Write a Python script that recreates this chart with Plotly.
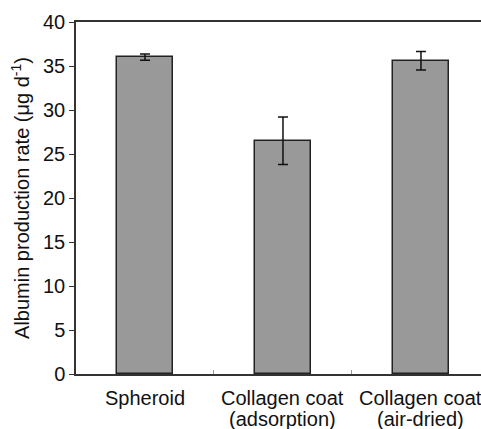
import plotly.graph_objects as go

categories = ["Spheroid", "Collagen coat (adsorption)", "Collagen coat (air-dried)"]
label_line1 = ["Spheroid", "Collagen coat", "Collagen coat"]
label_line2 = ["", "(adsorption)", "(air-dried)"]
values = [36.0, 26.5, 35.6]
errors = [0.35, 2.7, 1.05]
y_ticks = [0, 5, 10, 15, 20, 25, 30, 35, 40]

fig = go.Figure()
fig.add_trace(go.Bar(
    x=categories, y=values, width=0.41,
    marker=dict(color="#999999", line=dict(color="#222222", width=1.5)),
    error_y=dict(type="data", array=errors, visible=True, color="#111111", thickness=1.5, width=5),
))

for cat, l1, l2 in zip(categories, label_line1, label_line2):
    fig.add_annotation(x=cat, y=0, xref="x", yref="paper", text=l1, showarrow=False,
                       yanchor="middle", yshift=-24, font=dict(size=20))
    if l2:
        fig.add_annotation(x=cat, y=0, xref="x", yref="paper", text=l2, showarrow=False,
                           yanchor="middle", yshift=-45, font=dict(size=20))

fig.update_layout(
    width=481, height=429,
    margin=dict(l=76, r=0, t=22, b=55),
    paper_bgcolor="white", plot_bgcolor="white",
    font=dict(family="Liberation Sans, Arial, sans-serif", color="#111111"),
    showlegend=False,
    bargap=0,
)
fig.update_xaxes(
    type="category", range=[-0.5, 2.435], automargin=False,
    showline=True, linecolor="#333333", linewidth=1.5, mirror=True,
    ticks="inside", tickson="boundaries", ticklen=4, tickcolor="#999999", tickwidth=1,
    showticklabels=False, showgrid=False, zeroline=False,
)
fig.update_yaxes(
    range=[0, 40], tickvals=y_ticks, automargin=False,
    showline=True, linecolor="#333333", linewidth=1.5, mirror=False,
    ticks="outside", ticklen=5, tickcolor="#333333", tickwidth=1,
    tickfont=dict(size=20), showgrid=False, zeroline=False,
    title=dict(text="Albumin production rate (μg d<sup>-1</sup>)", font=dict(size=20), standoff=8),
)

fig.write_html("out.html", config={"displayModeBar": False},
               post_script="document.body.style.margin='0';document.body.style.overflow='hidden';")
